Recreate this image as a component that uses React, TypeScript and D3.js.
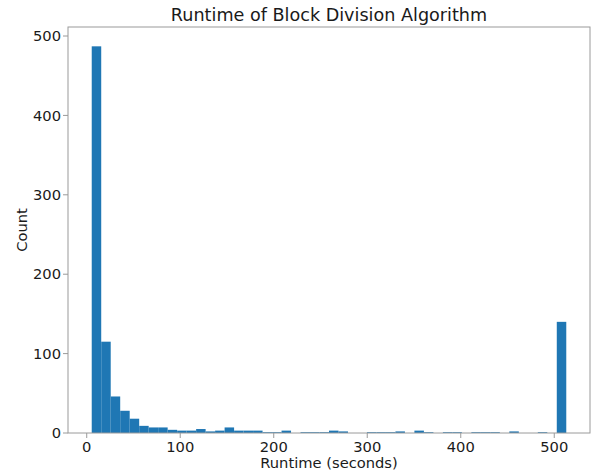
import React, { useEffect } from "react";
import * as d3 from "d3";

const counts: number[] = [
  487, 115, 46, 28, 18, 9, 7, 7, 4, 3,
  3, 5, 2, 3, 7, 3, 3, 3, 1, 1,
  3, 0, 1, 1, 1, 3, 2, 0, 0, 1,
  1, 1, 2, 0, 3, 1, 0, 1, 1, 0,
  1, 1, 1, 0, 2, 0, 0, 1, 0, 140,
];
const binStart = 5.35;
const binWidth = 10.15;
const xTicks: number[] = [0, 100, 200, 300, 400, 500];
const yTicks: number[] = [0, 100, 200, 300, 400, 500];
const title = "Runtime of Block Division Algorithm";
const xLabel = "Runtime (seconds)";
const yLabel = "Count";

const W = 597;
const H = 473;
const left = 68;
const right = 590;
const top = 27;
const bottom = 433;
const FONT = "'DejaVu Sans', sans-serif";
const SPINE = "#9a9a9a";
const TEXT = "#1a1a1a";

export default function App() {
  useEffect(() => {
    document.body.style.margin = "0";
  }, []);

  const binEnd = binStart + binWidth * counts.length;
  const span = binEnd - binStart;
  const x = d3
    .scaleLinear()
    .domain([binStart - 0.05 * span, binEnd + 0.05 * span])
    .range([left, right]);
  const yMax = (d3.max(counts) as number) * 1.05;
  const y = d3.scaleLinear().domain([0, yMax]).range([bottom, top]);

  return (
    <svg width={W} height={H} style={{ display: "block" }} fontFamily={FONT}>
      <rect x={0} y={0} width={W} height={H} fill="#ffffff" />
      {counts.map((c, i) => {
        const x0 = x(binStart + i * binWidth);
        const x1 = x(binStart + (i + 1) * binWidth);
        return (
          <rect
            key={i}
            x={x0}
            y={y(c)}
            width={x1 - x0}
            height={y(0) - y(c)}
            fill="#1f77b4"
          />
        );
      })}
      <rect
        x={left}
        y={top}
        width={right - left}
        height={bottom - top}
        fill="none"
        stroke={SPINE}
        strokeWidth={1}
      />
      {xTicks.map((t) => (
        <g key={"x" + t}>
          <line x1={x(t)} x2={x(t)} y1={bottom} y2={bottom + 5} stroke={SPINE} />
          <text
            x={x(t)}
            y={bottom + 8}
            dy="0.76em"
            textAnchor="middle"
            fontSize={14.7}
            fill={TEXT}
          >
            {t}
          </text>
        </g>
      ))}
      {yTicks.map((t) => (
        <g key={"y" + t}>
          <line x1={left - 5} x2={left} y1={y(t)} y2={y(t)} stroke={SPINE} />
          <text
            x={left - 7}
            y={y(t)}
            dy="0.36em"
            textAnchor="end"
            fontSize={14.7}
            fill={TEXT}
          >
            {t}
          </text>
        </g>
      ))}
      <text
        x={(left + right) / 2}
        y={468}
        textAnchor="middle"
        fontSize={14.7}
        fill={TEXT}
      >
        {xLabel}
      </text>
      <text
        transform={`translate(27, ${(top + bottom) / 2}) rotate(-90)`}
        textAnchor="middle"
        fontSize={14.7}
        fill={TEXT}
      >
        {yLabel}
      </text>
      <text
        x={(left + right) / 2}
        y={21}
        textAnchor="middle"
        fontSize={17.6}
        fill={TEXT}
      >
        {title}
      </text>
    </svg>
  );
}
